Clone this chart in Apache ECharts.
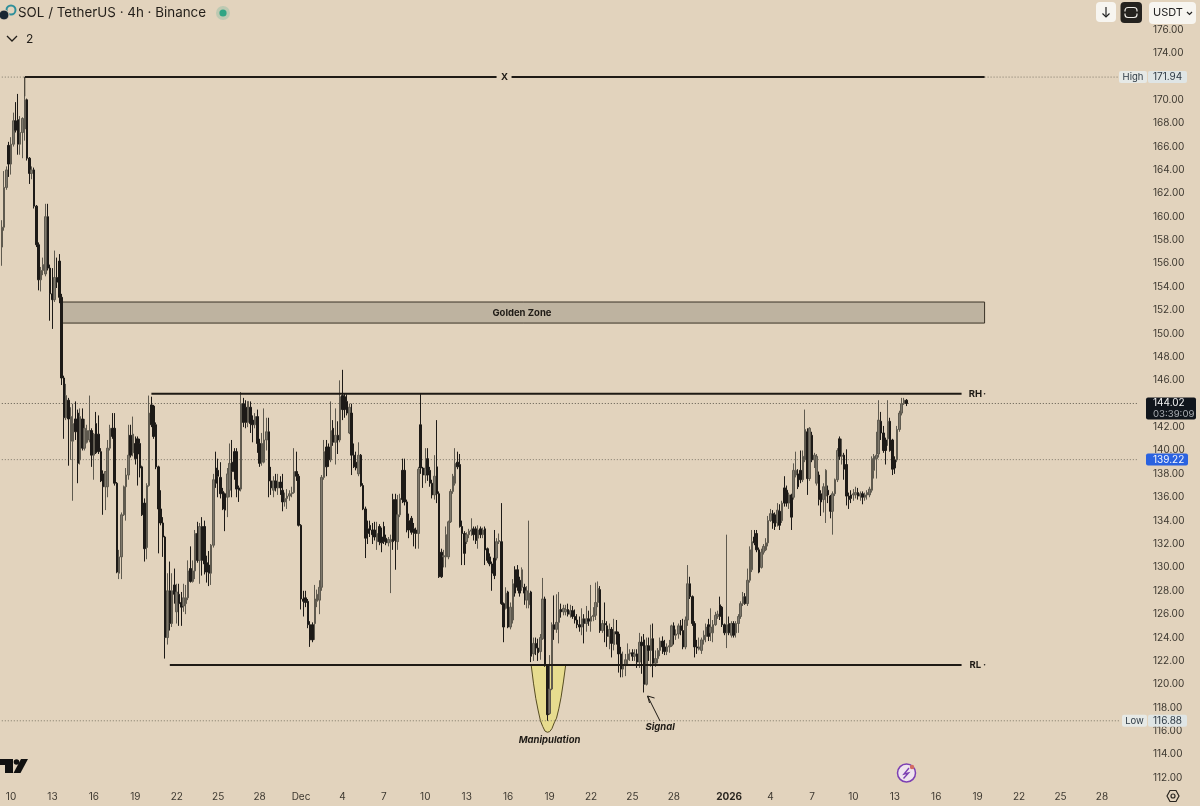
<!DOCTYPE html>
<html><head><meta charset="utf-8">
<style>html,body{margin:0;padding:0;background:#E2D3BD}#c{width:1200px;height:806px}</style>
<script src="https://cdn.jsdelivr.net/npm/echarts@6/dist/echarts.min.js"></script>
</head><body><div id="c"></div>
<script>
// [open, close, low, high] per 4h candle, first candle 2025-11-09 08:00
const candles = [
[157.4,159.1,155.8,159.7],[159.1,162.5,158.8,163.9],[162.5,164,162.3,164.3],[166.1,164.5,163.4,166.4],[164.5,166.2,163.6,166.8],[166.2,168.2,166,168.9],
[168.2,167.4,167.2,169.8],[168.3,166.2,165.3,170.5],[166.2,167.2,165.3,168.6],[167.2,168.4,165,168.5],[167.5,170,166.5,171.94],[170,165,164.8,170.1],
[165,163.7,162.8,165.1],[163.7,164,163.2,164.3],[164,160.9,160.7,164.2],[160.9,157.6,157.4,161],[157.6,154.6,153.7,157.8],[154.6,155.4,153.6,155.7],
[155.4,155.9,155,156.5],[155.1,160,154.9,161.1],[160,155.6,155.4,161.1],[155.6,153.4,151.1,155.9],[153.4,152.9,150.4,155.6],[152.9,154.8,152.7,157.1],
[154.8,154.4,153.9,156.5],[156.2,153.1,152.6,156.8],[153.1,146.2,145.6,153.4],[146.2,142.8,141,146.4],[142.8,144.7,142.6,145.7],[144.3,142.7,138.7,144.5],
[140.8,142.9,139.2,143.7],[140.8,142.3,135.7,144],[142.7,141.6,140.9,144.2],[143.2,138.9,137.2,143.5],[139.2,142.9,138.8,143.6],[142.7,140.2,140,143.6],
[140.2,141.9,140,142.7],[140.7,141.7,140.6,142.2],[140.9,141.7,140.7,144.7],[141.7,139.6,138.6,141.9],[139.6,141.4,137.5,141.5],[142.3,139.8,139.7,143.3],
[141.4,139.9,139.7,143],[139.9,137.4,137.3,140.2],[138,136.9,134.5,138.3],[136.9,138.2,134.9,138.2],[136.9,140.2,136,140.9],[140.2,141.9,140,142.2],
[141.9,141.2,141,143.2],[141.9,137.2,137,143.2],[137.2,129.6,129.5,137.3],[129.5,130.9,129,131.5],[130.9,134.5,129,134.7],[134.5,136.9,134.4,137],
[136.9,137.9,134,138.5],[137.9,139.6,137.5,142.2],[141.3,139.6,139.4,142.2],[139.8,141.4,139.5,142.9],[140.6,139.3,138.8,141.2],[141,139.7,137,141.2],
[140.6,138.5,137.7,141],[138.6,134.5,134.4,138.7],[135.5,131.6,130.5,135.9],[131.7,137,130.7,137.2],[137,143.2,136.9,144.7],[143.9,142.2,142,144.6],
[143.8,141.2,141,143.9],[142.2,138.6,138.4,142.4],[138.6,135,131.2,138.7],[135,133.8,133.6,136.6],[133.8,132.6,130.9,134.3],[132.6,124,122.2,132.7],
[124,128,123.4,129.5],[128,125.2,124.6,130.5],[125.2,128,124.9,129.5],[128.5,127.7,126.9,129.9],[126.2,127.9,125.2,128.6],[127.7,126.9,125,128.6],
[127,126.6,125,127.9],[126.7,127.4,126.2,128.6],[126.9,127.4,126,128.5],[127.4,129.7,127.2,130.6],[129.9,128.8,128.7,131.8],[128.8,129.7,128.7,130.6],
[129.7,132.9,129,133.2],[132.9,130.6,130.4,133.9],[130.6,133.5,128.6,133.8],[133.5,130.6,129.3,134.3],[133.5,130.3,129.4,134],[130.4,129.6,128.7,131],
[130.2,129.5,128.4,131.4],[129.5,131.9,128.5,132],[131.9,137.5,131.7,138],[138.5,137.2,136.8,139.9],[138.3,137.8,136,139.3],[137.7,136.3,135.9,139],
[136.5,135,134.9,136.8],[136.3,134.9,133.1,136.4],[136,138,134.3,138.5],[136.6,138.9,136,140.6],[139,138.2,136,140.9],[139.9,138.2,137.5,140.2],
[139.9,136.7,136,140.2],[136.8,136.6,135.6,137],[136.7,144,136.5,145],[144,142.4,142,144.5],[143.7,142.4,141.9,144.3],[142.4,144.2,142,144.2],
[143.7,142.3,141.5,144.2],[142.6,142.2,140.7,143],[142.2,142.9,141.9,143.2],[142.9,140.6,139.8,143.5],[140.6,138.9,138.6,141],[139,140.6,138.7,141.5],
[139,140.9,138.9,143.6],[140.9,141.6,140,142.8],[141.6,137.4,136,142.8],[137.4,136.8,136.2,138.6],[136.6,137.4,136,137.8],[137.4,136.8,136.5,138],
[136.8,137.3,136.2,138],[137.3,136.8,136.2,137.8],[136.6,135.6,134.8,138],[135.6,135.9,135.2,136.4],[135.9,136.1,135,136.7],[136.1,136.3,135.7,136.6],
[136.3,136.4,136,136.9],[136.4,138.2,136.3,140.2],[138.2,137.8,137.4,139.9],[137.8,133.6,133.5,138],[133.6,127.3,126.4,133.7],[127.3,127.1,125.8,128],
[127.4,127,126.6,128],[127.1,125.1,124.8,127.3],[125.1,123.8,123.2,125.4],[125.1,123.8,123.6,125.3],[125.2,127.3,123.8,128.5],[127.1,127.7,126.6,128.1],
[127.2,128.3,126,128.9],[128.3,137.7,128,137.9],[137.7,139.9,137.5,140.9],[140.3,138.6,137.8,140.9],[140.3,139.2,138.6,140.6],[139.2,141.7,139,144.2],
[141.9,140.7,140.4,142.6],[140.7,141.3,138.8,143.6],[141.3,140.9,139.7,142.5],[140.9,144.6,140.7,146],[144.7,143.5,142.6,146.9],[144.6,143.5,142.8,144.9],
[144.2,143.2,143,144.8],[141.5,143.7,141.4,144],[143.2,139.6,137.9,144],[139.6,138.6,138.5,140.6],[139,138.5,138.3,139.9],[138,139.6,137.8,140.7],
[139.6,137,136.9,139.7],[137,135,134.9,137.2],[135,132.5,130.8,135.2],[133.3,132.9,132,134],[133.6,133.2,132.6,134],[133.2,132.8,132,133.8],
[133.2,132.6,132.3,133.9],[132.2,132.9,131.5,133.9],[133.5,132.2,131.9,133.7],[132.6,132.1,131.3,133.4],[133.5,132.2,132,133.9],[132.5,132.1,131.9,132.8],
[132.1,132.4,131.8,132.6],[132.2,132.4,127.8,132.8],[135.8,132.2,131.5,136.3],[135.8,132.3,129.8,136.3],[132.2,134.5,131.5,136.2],[134.5,135.9,134.3,136.3],
[138.3,135.8,135.5,139.3],[138.3,135.6,135.3,139.3],[135.6,133.2,133,135.8],[134,133.2,132.5,134.6],[134.2,133,132.8,134.4],[133.3,132.9,131.8,133.8],
[133.2,132.9,131.6,133.4],[132.9,138.4,131.6,138.6],[142.2,138.5,138,144.9],[138.5,137.9,136.8,138.6],[137.9,138.5,137.2,140.2],[139.3,137.9,137.4,140.2],
[138.3,137.2,136.9,138.6],[137.2,136.2,135.9,137.5],[136.2,137.8,135.8,139.6],[138.6,136.3,135.5,142.6],[136.3,129.2,129.1,136.5],[131.3,129.2,129.1,131.6],
[130.9,131,130,131.5],[130.9,132.8,130,133.5],[130.9,133.9,130.7,134],[133.9,136.5,133.8,136.7],[136.5,137.8,136.3,138],[137.2,138.9,137,140.2],
[139,138.6,138.4,139.9],[138.8,133.5,133.4,139.7],[133.5,132.9,130.2,134],[132.9,131.2,130.2,133.1],[132.2,132.8,132,133],[132.8,133.1,132.5,133.3],
[133.1,133.2,132.7,134.2],[133.3,132.8,132.3,133.5],[133.3,132.3,132,133.5],[132.5,133.2,131.6,133.6],[133.3,132.8,132.5,133.5],[132.8,133.2,132.5,133.4],
[133.3,131.5,130.2,133.5],[131.6,130.6,130.4,131.7],[130.9,130.3,130.1,131.2],[130.3,129.5,128,130.5],[130.8,129.3,129,133.2],[130.8,132.2,130.6,132.5],
[132.2,132.3,132,132.9],[132.2,126.9,126.8,135.5],[126.9,124.9,123.6,127],[126.5,127.8,126.4,128.3],[127.9,124.9,124.8,128],[124.9,126.6,124.7,127],
[125.5,128.6,125.2,129],[129.8,127.8,127.5,130.1],[129.8,128.3,128,130.2],[128.9,127.8,127.5,129.2],[128.3,129.8,128,130],[128.3,127.8,126.8,128.6],
[127.2,128,126.5,128.4],[126.8,127.8,126.5,134],[127.9,122.4,121.9,128],[122.6,123.5,122,124],[123.5,123.1,122.5,124],[123.1,122.7,122,123.9],
[122.8,124,122.1,124.3],[123.9,127.3,123.8,129.1],[127.3,121.6,121.5,127.5],[121.6,117.4,116.88,121.7],[117.5,119.6,117.4,122.5],[119.6,125.1,119.5,125.3],
[125.1,124.7,123.8,127.6],[124.7,125.3,124.4,127.7],[125.3,126.4,123.5,127.9],[126.4,126.2,125.7,126.9],[126.2,126.5,125.9,126.8],[126.2,126.4,125.9,126.8],
[126.4,126,125.8,126.9],[126,126.3,125.7,126.8],[126.3,125.8,125.6,126.7],[125.8,125.5,125.2,126.4],[125.5,125.1,124.8,126],[125.1,124.9,124.5,125.8],
[124.9,125.6,124.2,126.5],[125.6,125.2,123.5,126],[125.2,125.6,124.5,126.7],[125.6,125.4,125,126.3],[125.4,125.8,124.5,128.5],[125.8,125.9,125.4,126.6],
[125.9,127,125.5,128.7],[127,128.2,126.6,128.8],[128.1,124.6,124.4,128.4],[124.6,125.2,124.4,125.5],[125.2,125.1,123.6,127],[125,124.1,123.2,125.4],
[124.1,124.7,123,125.2],[124.7,123.5,122.3,124.9],[123.4,124.5,122.9,125.6],[124.5,124.3,123.4,125.5],[124.3,122.6,121,124.5],[122.6,121.3,120.6,123.2],
[121.3,121.6,120.6,122.8],[121.6,122.1,120.7,122.6],[122.1,122.6,121.7,123.5],[122.6,122.7,122,123],[122.7,122.4,122,123],[122.4,122.6,122,123],
[122.6,121.9,121.4,123],[121.9,123.6,121.4,124.4],[123.6,123.3,120.9,124.1],[123.8,120,119.3,124.3],[120,123.3,119.9,124],[123.3,122.9,122,124],
[122.9,123.9,121.5,125.1],[123.9,121.8,120.6,125.2],[121.8,122.2,121.5,122.9],[122.2,122.9,121.8,123.1],[122.9,123.7,122.4,124],[123.7,123.2,122.6,124.1],
[123.2,122.8,122.5,123.8],[122.8,123.2,122.5,123.5],[123.2,123.3,122.7,123.8],[123.3,125,123.2,125.1],[125,124.2,123.4,125.3],[124.2,124.3,123.8,124.7],
[124.3,125,123.9,125.2],[125,124.6,124.2,125.5],[124.6,123.2,123,125.6],[123.2,125.5,123,125.8],[125.5,128.6,125,130.2],[128.6,127.5,127.3,129.2],
[127.5,125.2,125,127.6],[125.2,123.2,122.3,125.4],[123.2,123.1,122.6,123.8],[123,123.2,122.9,124],[122.9,123.8,122.6,124],[123.8,124.2,123.4,124.6],
[124.1,124.9,123.6,125.2],[125.1,124.1,123.7,125.6],[124.4,124.9,123.7,126.5],[124.4,125.1,123.6,125.5],[125.1,125.9,125,126.2],[125.8,126,125.6,126.3],
[126.8,125.8,125.5,127.5],[126.6,125.1,124.9,126.7],[125.1,124.4,124.2,125.2],[124.4,125.1,123.1,132.8],[125.2,124.4,124.2,125.8],[124.2,125.2,124,125.4],
[125.2,124.2,124,125.4],[124.4,125.2,124,125.4],[125.2,125.8,124.4,126],[125.8,126.9,125.6,127.1],[126.9,127.5,126.7,127.9],[127.5,126.9,126.8,127.8],
[126.9,128.9,126.7,129.9],[128.9,131.5,128.7,131.8],[129.8,132.2,129.6,133.2],[132.6,132.1,131.9,133.2],[132.9,131.5,131.3,133.2],[131.5,129.6,129.5,131.7],
[130,131.3,129.9,131.6],[131.3,131.8,131.1,132],[131.5,132.1,131.4,132.5],[132.1,134,131.8,134.4],[134,134.6,133.9,135],[134.6,133.8,133.3,134.9],
[134.5,133.5,133.2,134.7],[133.8,134.9,133.5,135.5],[134.8,133.6,133.2,135.4],[134,135.5,133.8,135.7],[136.8,135.5,135.2,137.8],[136.6,135.5,135.2,137],
[135.5,136.2,135,136.4],[136.2,134.3,133.2,136.3],[136,138.3,135.8,138.9],[137.9,138.3,137.7,139.9],[138,136.9,136.7,138.4],[138.3,137.5,137.2,140],
[137.5,139.5,137.3,140],[139.2,141.8,139,143.5],[141.6,137.6,136.2,141.9],[137.6,141.9,137.4,142],[141.3,139.2,139,141.6],[139.2,139.6,138.5,139.8],
[137.2,139.5,137,139.7],[137.9,135.8,135.3,138.2],[136.3,135.6,134.4,136.6],[135.8,136.9,134.7,137.2],[136.1,138.3,133.8,138.4],[136.6,136.2,135.5,137],
[136.1,134.8,134.2,136.2],[134.8,136.3,132.8,136.5],[136.3,137.5,136.1,137.6],[137.5,140,137.3,140.2],[141,139.5,139.2,141.2],[139.5,139.6,138.8,141],
[139.6,138.4,137.5,139.8],[138.8,136.1,135.3,140.1],[136.1,135.8,135,136.4],[136.2,135.9,135.5,136.6],[136.2,136.3,135.7,136.7],[136.2,136.4,135.9,136.9],
[136.4,136.1,135.8,136.8],[136.1,136.3,135.7,136.5],[136.3,136,135.4,136.5],[136,136.2,135.7,136.4],[136.2,136.4,135.8,136.6],[136.2,136.7,136,136.9],
[136.6,139.3,136.4,139.5],[138.3,139.5,137.6,139.7],[139.3,139.6,137.6,141.6],[139.7,142.6,139.4,144.3],[142.5,141.5,140.9,143.3],[141.5,140,139.8,142.1],
[140.9,140,138.8,141.1],[141,142.5,140.4,144.3],[142.5,140,139.9,142.8],[140.9,138.4,137.9,141],[139.2,138.5,138,139.5],[139.2,141.8,139,142.1],
[141.8,143.2,141.6,143.4],[143.2,144,143,144.5],[144,144.3,143.9,144.5],[144.3,144.02,143.8,144.4]
];
// Axis
const tickDates = ['2025-11-10','2025-11-13','2025-11-16','2025-11-19','2025-11-22','2025-11-25','2025-11-28','2025-12-01','2025-12-04','2025-12-07','2025-12-10','2025-12-13','2025-12-16','2025-12-19','2025-12-22','2025-12-25','2025-12-28','2026-01-01','2026-01-04','2026-01-07','2026-01-10','2026-01-13','2026-01-16','2026-01-19','2026-01-22','2026-01-25','2026-01-28'];
const tickLabels = ['10','13','16','19','22','25','28','Dec','4','7','10','13','16','19','22','25','28','2026','4','7','10','13','16','19','22','25','28'];
const priceMin = 112, priceMax = 178, priceStep = 2;
const slotCount = 495;
// Levels
const highPrice = 171.94, lowPrice = 116.88, lastPrice = 144.02, linePrice = 139.22;
const rangeHigh = 144.85, rangeLow = 121.65;
const goldenTop = 152.7, goldenBottom = 150.9;
// Yellow "Manipulation" outline, [candle index, price]
const manipulationOutline = [[230,121.65],[231,120.1],[232,118.8],[233,117.8],[234,116.9],[235,116.4],[236,116],[237,115.9],[238,115.95],[239,116.2],[240,116.7],[241,117.1],[242,117.9],[243,118.9],[244,120.2],[245,121.65]];
// Annotation texts: [candle index, price, text, font weight/style]
const annotationTexts = [[226,151.72,'Golden Zone','bold'],[423,144.8,'RH','bold'],[423,121.6,'RL','bold'],[427,144.8,'·','bold'],[427,121.6,'·','bold'],[286,116.3,'Signal','italic'],[238,115.2,'Manipulation','italic']];

const FONT = 'Inter, Roboto, "Liberation Sans", sans-serif';
const INK = '#1E1A15', BG = '#E2D3BD';
const categories = [];
{ let t = Date.UTC(2025,10,9,8);
  for (let i=0;i<slotCount;i++){ categories.push(new Date(t).toISOString().slice(0,16).replace('T',' ')); t += 4*3600*1000; } }
const tickMap = {};
tickDates.forEach((d,i)=>{ tickMap[d+' 00:00'] = tickLabels[i]; });

const DOTTED = [1,2];
function hLine(name,k0,k1,price,width,type,color,z){
  return {name,type:'line',data:[[k0,price],[k1,price]],showSymbol:false,silent:true,z,animation:false,
    lineStyle:{color,width,type,cap:'butt'}};
}
const DOT = '#7F7869';
const series = [
  {name:'Golden Zone',type:'custom',z:1,silent:true,data:[[26,goldenTop,427,goldenBottom]],encode:{x:[0,2],y:[1,3]},
   renderItem(p,api){const a=api.coord([api.value(0),api.value(1)]),b=api.coord([api.value(2),api.value(3)]);
     return {type:'rect',shape:{x:a[0],y:a[1],width:b[0]-a[0],height:b[1]-a[1]},style:{fill:'#BEB3A0',stroke:'#3A3226',lineWidth:1}};}},
  {name:'Manipulation',type:'custom',z:1,silent:true,data:manipulationOutline,encode:{x:0,y:1},
   renderItem(p,api){ if(p.dataIndex!==0) return null;
     return {type:'polygon',shape:{points:manipulationOutline.map(q=>api.coord(q))},style:{fill:'#E7DC8F',stroke:'#564C22',lineWidth:1}};}},
  hLine('High left',0,10,highPrice,1,DOTTED,DOT,2),
  hLine('High right',427,486,highPrice,1,DOTTED,DOT,2),
  hLine('Low',0,486,lowPrice,1,DOTTED,DOT,2),
  hLine('Last',0,494,lastPrice,1,DOTTED,'#5F5A4E',2),
  hLine('Price line',0,494,linePrice,1,DOTTED,DOT,2),
  {name:'SOLUSDT',type:'candlestick',z:3,data:candles,barWidth:2,silent:true,clip:true,
   itemStyle:{color:'#7E786C',color0:'#1D1A17',borderColor:'#5F5A4F',borderColor0:'#1D1A17',borderWidth:1}},
  {name:'X line',type:'line',z:4,silent:true,showSymbol:false,data:[[10,highPrice],[427,highPrice]],lineStyle:{color:INK,width:2}},
  {name:'X stem',type:'custom',z:4,silent:true,data:[[10,highPrice,170.3]],encode:{x:0,y:[1,2]},
   renderItem(p,api){const a=api.coord([api.value(0),api.value(1)]),b=api.coord([api.value(0),api.value(2)]);
     return {type:'line',shape:{x1:a[0],y1:a[1],x2:b[0],y2:b[1]},style:{stroke:'#4A443A',lineWidth:1}};}},
  hLine('RH',65,417,rangeHigh,2,'solid',INK,4),
  hLine('RL',73,417,rangeLow,2,'solid',INK,4),
  {name:'X label',type:'custom',z:5,silent:true,data:[[218,highPrice]],encode:{x:0,y:1},
   renderItem(p,api){const a=api.coord([api.value(0),api.value(1)]);
     return {type:'group',children:[
       {type:'rect',shape:{x:a[0]-7,y:a[1]-3,width:15,height:6},style:{fill:BG}},
       {type:'text',style:{x:a[0]+1,y:a[1],text:'X',fill:INK,font:'bold 9.5px '+FONT,align:'center',verticalAlign:'middle'}}]};}},
  {name:'Signal arrow',type:'custom',z:5,silent:true,data:[[281,119.0,286,117.2]],encode:{x:[0,2],y:[1,3]},
   renderItem(p,api){const a=api.coord([api.value(0),api.value(1)]),b=api.coord([api.value(2),api.value(3)]);
     const st={stroke:INK,lineWidth:1,fill:null};
     return {type:'group',children:[
       {type:'line',shape:{x1:a[0]-1,y1:a[1],x2:b[0],y2:b[1]+4},style:st},
       {type:'polyline',shape:{points:[[a[0]+6,a[1]+2],[a[0]-1,a[1]],[a[0]+1,a[1]+7]]},style:st}]};}},
  {name:'Annotations',type:'custom',z:6,silent:true,data:annotationTexts.map(t=>[t[0],t[1]]),encode:{x:0,y:1},
   renderItem(p,api){const t=annotationTexts[p.dataIndex],a=api.coord([t[0],t[1]]);
     const it=t[3]==='italic';
     return {type:'text',style:{x:a[0],y:a[1],text:t[2],fill:'#1E1A15',
       font:(it?'italic bold ':'bold ')+'9.5px '+FONT,align:'center',verticalAlign:'middle'}};}},
  {name:'Price tags',type:'custom',z:7,silent:true,data:[[0,highPrice],[0,lowPrice],[0,lastPrice],[0,linePrice]],encode:{x:0,y:1},
   renderItem(p,api){const i=p.dataIndex,v=api.value(1),y=api.coord([0,v])[1],s=v.toFixed(2);
     const tx=(x,yy,text,fill,size,al)=>({type:'text',style:{x,y:yy,text,fill,font:size+'px '+FONT,align:al||'left',verticalAlign:'middle'}});
     const box=(x,yy,w,h,fill,r)=>({type:'rect',shape:{x,y:yy,width:w,height:h,r:r||0},style:{fill}});
     if(i<2){const lab=i===0?'High':'Low';
       return {type:'group',children:[box(i===0?1119:1122,y-6,i===0?28:25,12,'#E6E9E6',2),box(1148,y-6,39,12,'#DFE5E5',2),
         tx(i===0?1133:1134.5,y,lab,'#2E3A45',9.5,'center'),tx(1153,y,s,'#2E3A45',10)]};}
     if(i===2) return {type:'group',children:[box(1146,y-6,50,22,'#10151C',2),
         tx(1153,y,s,'#F2F2F2',10),tx(1153,y+11,'03:39:09','#A9ADB2',9.6)]};
     return {type:'group',children:[box(1146,y-6,42,12,'#2A62E0',2),tx(1153,y,s,'#F4F6FB',10)]};}}
];

const graphicEls = [
  // pair icon
  {type:'circle',shape:{cx:11,cy:10,r:4.5},style:{fill:BG,stroke:'#2F8F9A',lineWidth:2}},
  {type:'circle',shape:{cx:4,cy:15,r:5},style:{fill:'#1B2733',stroke:BG,lineWidth:1}},
  {type:'text',style:{x:18,y:13,text:'SOL / TetherUS · 4h · Binance',fill:'#221E19',font:'13.4px '+FONT,verticalAlign:'middle'}},
  {type:'circle',shape:{cx:223,cy:13,r:7},style:{fill:'rgba(60,170,140,0.22)'}},
  {type:'circle',shape:{cx:223,cy:13,r:3.6},style:{fill:'#2FA584'}},
  {type:'polyline',shape:{points:[[7,36],[12,41],[17,36]]},style:{stroke:'#221E19',lineWidth:1.3,fill:null}},
  {type:'text',style:{x:26,y:39,text:'2',fill:'#221E19',font:'12px '+FONT,verticalAlign:'middle'}},
  // toolbar
  {type:'rect',z:20,shape:{x:1096,y:2,width:20,height:20,r:4},style:{fill:'#F7F5F0'}},
  {type:'polyline',z:21,shape:{points:[[1106,7],[1106,17]]},style:{stroke:'#222',lineWidth:1.2,fill:null}},
  {type:'polyline',z:21,shape:{points:[[1102.5,13.5],[1106,17],[1109.5,13.5]]},style:{stroke:'#222',lineWidth:1.2,fill:null}},
  {type:'rect',z:20,shape:{x:1120.5,y:2,width:21.5,height:21,r:4},style:{fill:'#24221F'}},
  {type:'rect',z:21,shape:{x:1125,y:7.5,width:12,height:10,r:3},style:{fill:null,stroke:'#EDEBE6',lineWidth:1.2}},
  {type:'rect',z:22,shape:{x:1123,y:11.5,width:16,height:2},style:{fill:'#24221F'}},
  {type:'rect',z:20,shape:{x:1149,y:2,width:47,height:22,r:4},style:{fill:'#F7F5F0'}},
  {type:'text',z:21,style:{x:1153,y:13,text:'USDT',fill:'#222',font:'11px '+FONT,verticalAlign:'middle'}},
  {type:'polyline',z:21,shape:{points:[[1187,12],[1189.5,14.5],[1192,12]]},style:{stroke:'#222',lineWidth:1.2,fill:null}},
  // watermark
  {type:'polygon',shape:{points:[[0,759],[13,759],[13,773],[5,773],[5,765],[0,765]]},style:{fill:'#111'}},
  {type:'circle',shape:{cx:16.5,cy:762,r:2.8},style:{fill:'#111'}},
  {type:'polygon',shape:{points:[[21,759],[28,759],[20.5,773],[13.5,773]]},style:{fill:'#111'}},
  // lightning badge
  {type:'circle',shape:{cx:906.5,cy:773,r:9},style:{fill:'#EFE4EE',stroke:'#7C3FB3',lineWidth:1.5}},
  {type:'polyline',shape:{points:[[909,768],[904,774],[908.5,773],[903.5,778.5]]},style:{stroke:'#7C3FB3',lineWidth:1.4,fill:null}},
  {type:'circle',shape:{cx:912,cy:767,r:2.2},style:{fill:'#D26A63'}},
  // settings hexagon
  {type:'polygon',shape:{points:[[1167,796],[1170,790.5],[1176,790.5],[1179,796],[1176,801.5],[1170,801.5]]},style:{fill:null,stroke:'#2A2620',lineWidth:1.2}},
  {type:'circle',shape:{cx:1173,cy:796,r:2},style:{fill:null,stroke:'#2A2620',lineWidth:1.2}}
];

const chart = echarts.init(document.getElementById('c'),null,{renderer:'canvas'});
chart.setOption({
  animation:false,backgroundColor:BG,
  grid:{left:0.65,top:6.24,width:1139.3,height:771.6},
  xAxis:{type:'category',data:categories,boundaryGap:true,
    axisLine:{show:false},axisTick:{show:false},splitLine:{show:false},
    axisLabel:{margin:14,color:'#3D3830',fontFamily:FONT,fontSize:10,
      interval:(i,v)=>v in tickMap,
      formatter:v=>{const l=tickMap[v]||'';return l==='2026'?'{b|2026}':l;},
      rich:{b:{fontWeight:'bold',fontSize:10,color:'#2A2620',fontFamily:FONT}}}},
  yAxis:{type:'value',position:'right',min:priceMin,max:priceMax,interval:priceStep,
    axisLine:{show:false},axisTick:{show:false},splitLine:{show:false},
    axisLabel:{margin:13,color:'#3D3830',fontFamily:FONT,fontSize:10,showMaxLabel:false,padding:[2,0,0,0],formatter:v=>v.toFixed(2)}},
  tooltip:{show:false},
  series,
  graphic:{elements:graphicEls}
});
</script></body></html>
